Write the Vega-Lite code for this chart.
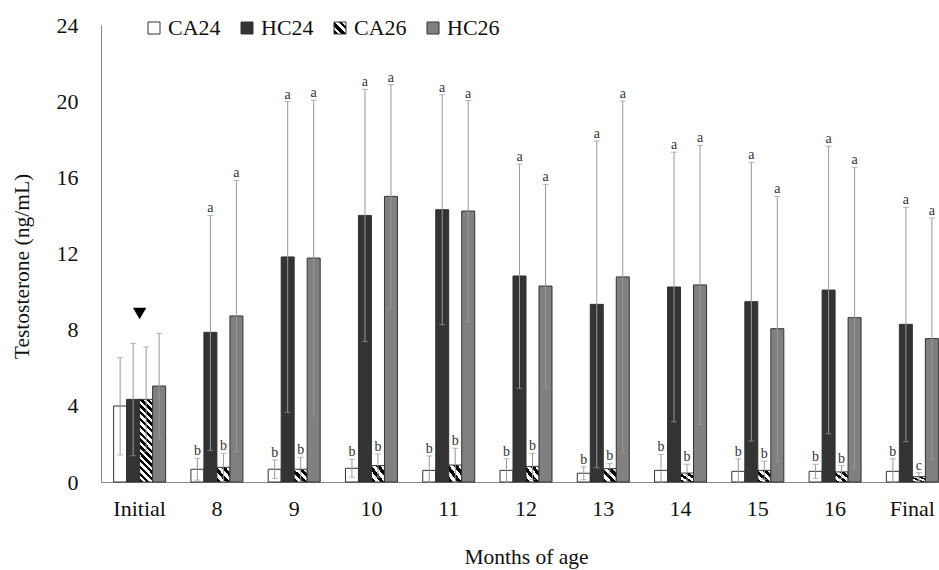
{
  "$schema": "https://vega.github.io/schema/vega-lite/v6.json",
  "width": 838,
  "height": 457,
  "autosize": {"type": "none"},
  "padding": {"left": 101, "top": 25, "right": 0, "bottom": 88},
  "background": "white",
  "config": {
    "view": {"stroke": null},
    "font": "Liberation Serif",
    "axis": {"grid": false, "ticks": false, "tickSize": 0, "domainColor": "#888888", "labelFont": "Liberation Serif", "labelFontSize": 22, "labelColor": "#111111", "titleFont": "Liberation Serif", "titleFontSize": 21.5, "titleFontWeight": "normal", "titleColor": "#111111"},
    "axisY": {"labelPadding": 23, "titlePadding": 23},
    "axisX": {"labelPadding": 16, "titlePadding": 27, "labelAngle": 0}
  },
  "datasets": {
    "bars": [
      {"month": "Initial", "series": "CA24", "mean": 3.99, "lo": 1.42, "hi": 6.53, "letter": ""},
      {"month": "Initial", "series": "HC24", "mean": 4.34, "lo": 1.38, "hi": 7.28, "letter": ""},
      {"month": "Initial", "series": "CA26", "mean": 4.34, "lo": 1.59, "hi": 7.09, "letter": ""},
      {"month": "Initial", "series": "HC26", "mean": 5.04, "lo": 2.27, "hi": 7.81, "letter": ""},
      {"month": "8", "series": "CA24", "mean": 0.67, "lo": 0.10, "hi": 1.24, "letter": "b"},
      {"month": "8", "series": "HC24", "mean": 7.86, "lo": 1.66, "hi": 14.0, "letter": "a"},
      {"month": "8", "series": "CA26", "mean": 0.77, "lo": 0.03, "hi": 1.51, "letter": "b"},
      {"month": "8", "series": "HC26", "mean": 8.72, "lo": 1.6, "hi": 15.84, "letter": "a"},
      {"month": "9", "series": "CA24", "mean": 0.67, "lo": 0.18, "hi": 1.16, "letter": "b"},
      {"month": "9", "series": "HC24", "mean": 11.82, "lo": 3.66, "hi": 19.98, "letter": "a"},
      {"month": "9", "series": "CA26", "mean": 0.67, "lo": 0.04, "hi": 1.30, "letter": "b"},
      {"month": "9", "series": "HC26", "mean": 11.76, "lo": 3.47, "hi": 20.05, "letter": "a"},
      {"month": "10", "series": "CA24", "mean": 0.72, "lo": 0.25, "hi": 1.19, "letter": "b"},
      {"month": "10", "series": "HC24", "mean": 14.0, "lo": 7.38, "hi": 20.62, "letter": "a"},
      {"month": "10", "series": "CA26", "mean": 0.86, "lo": 0.25, "hi": 1.47, "letter": "b"},
      {"month": "10", "series": "HC26", "mean": 15.0, "lo": 9.13, "hi": 20.87, "letter": "a"},
      {"month": "11", "series": "CA24", "mean": 0.61, "lo": 0.0, "hi": 1.37, "letter": "b"},
      {"month": "11", "series": "HC24", "mean": 14.3, "lo": 8.26, "hi": 20.34, "letter": "a"},
      {"month": "11", "series": "CA26", "mean": 0.89, "lo": 0.01, "hi": 1.77, "letter": "b"},
      {"month": "11", "series": "HC26", "mean": 14.23, "lo": 8.43, "hi": 20.03, "letter": "a"},
      {"month": "12", "series": "CA24", "mean": 0.61, "lo": 0.0, "hi": 1.22, "letter": "b"},
      {"month": "12", "series": "HC24", "mean": 10.82, "lo": 4.92, "hi": 16.69, "letter": "a"},
      {"month": "12", "series": "CA26", "mean": 0.82, "lo": 0.13, "hi": 1.51, "letter": "b"},
      {"month": "12", "series": "HC26", "mean": 10.29, "lo": 4.95, "hi": 15.63, "letter": "a"},
      {"month": "13", "series": "CA24", "mean": 0.46, "lo": 0.12, "hi": 0.80, "letter": "b"},
      {"month": "13", "series": "HC24", "mean": 9.33, "lo": 0.75, "hi": 17.91, "letter": "a"},
      {"month": "13", "series": "CA26", "mean": 0.70, "lo": 0.42, "hi": 0.98, "letter": "b"},
      {"month": "13", "series": "HC26", "mean": 10.77, "lo": 1.53, "hi": 20.01, "letter": "a"},
      {"month": "14", "series": "CA24", "mean": 0.61, "lo": 0.0, "hi": 1.45, "letter": "b"},
      {"month": "14", "series": "HC24", "mean": 10.24, "lo": 3.16, "hi": 17.32, "letter": "a"},
      {"month": "14", "series": "CA26", "mean": 0.47, "lo": 0.01, "hi": 0.93, "letter": "b"},
      {"month": "14", "series": "HC26", "mean": 10.35, "lo": 3.02, "hi": 17.68, "letter": "a"},
      {"month": "15", "series": "CA24", "mean": 0.56, "lo": 0.0, "hi": 1.22, "letter": "b"},
      {"month": "15", "series": "HC24", "mean": 9.47, "lo": 2.15, "hi": 16.79, "letter": "a"},
      {"month": "15", "series": "CA26", "mean": 0.61, "lo": 0.13, "hi": 1.09, "letter": "b"},
      {"month": "15", "series": "HC26", "mean": 8.05, "lo": 1.1, "hi": 15.0, "letter": "a"},
      {"month": "16", "series": "CA24", "mean": 0.56, "lo": 0.19, "hi": 0.93, "letter": "b"},
      {"month": "16", "series": "HC24", "mean": 10.08, "lo": 2.53, "hi": 17.63, "letter": "a"},
      {"month": "16", "series": "CA26", "mean": 0.53, "lo": 0.2, "hi": 0.86, "letter": "b"},
      {"month": "16", "series": "HC26", "mean": 8.63, "lo": 0.73, "hi": 16.53, "letter": "a"},
      {"month": "Final", "series": "CA24", "mean": 0.56, "lo": 0.0, "hi": 1.22, "letter": "b"},
      {"month": "Final", "series": "HC24", "mean": 8.28, "lo": 2.12, "hi": 14.43, "letter": "a"},
      {"month": "Final", "series": "CA26", "mean": 0.28, "lo": 0.07, "hi": 0.49, "letter": "c"},
      {"month": "Final", "series": "HC26", "mean": 7.53, "lo": 1.19, "hi": 13.87, "letter": "a"}
    ],
    "marker": [{"month": "Initial", "value": 8.85}]
  },
  "data": {"name": "bars"},
  "encoding": {
    "x": {
      "field": "month", "type": "nominal",
      "sort": ["Initial", "8", "9", "10", "11", "12", "13", "14", "15", "16", "Final"],
      "scale": {"range": [0, 850], "paddingInner": 0.327, "paddingOuter": 0.1635},
      "title": "Months of age"
    }
  },
  "layer": [
    {
      "mark": {"type": "bar", "stroke": "#333333", "strokeWidth": 1},
      "encoding": {
        "xOffset": {"field": "series", "type": "nominal", "sort": ["CA24", "HC24", "CA26", "HC26"], "scale": {"paddingInner": 0, "paddingOuter": 0}},
        "y": {"field": "mean", "type": "quantitative", "title": "Testosterone (ng/mL)", "scale": {"domain": [0, 24]}, "axis": {"values": [0, 4, 8, 12, 16, 20, 24], "titleY": 241}},
        "fill": {
          "condition": {
            "test": "datum.series === 'CA26' && datum.month === 'Initial'",
            "value": {"gradient": "linear", "x1": 0, "y1": 1, "x2": 0.181, "y2": -0.131, "stops": [
              {"offset": 0, "color": "#000"}, {"offset": 0.0357, "color": "#000"}, {"offset": 0.0357, "color": "#fff"}, {"offset": 0.0714, "color": "#fff"},
              {"offset": 0.0714, "color": "#000"}, {"offset": 0.1071, "color": "#000"}, {"offset": 0.1071, "color": "#fff"}, {"offset": 0.1429, "color": "#fff"},
              {"offset": 0.1429, "color": "#000"}, {"offset": 0.1786, "color": "#000"}, {"offset": 0.1786, "color": "#fff"}, {"offset": 0.2143, "color": "#fff"},
              {"offset": 0.2143, "color": "#000"}, {"offset": 0.25, "color": "#000"}, {"offset": 0.25, "color": "#fff"}, {"offset": 0.2857, "color": "#fff"},
              {"offset": 0.2857, "color": "#000"}, {"offset": 0.3214, "color": "#000"}, {"offset": 0.3214, "color": "#fff"}, {"offset": 0.3571, "color": "#fff"},
              {"offset": 0.3571, "color": "#000"}, {"offset": 0.3929, "color": "#000"}, {"offset": 0.3929, "color": "#fff"}, {"offset": 0.4286, "color": "#fff"},
              {"offset": 0.4286, "color": "#000"}, {"offset": 0.4643, "color": "#000"}, {"offset": 0.4643, "color": "#fff"}, {"offset": 0.5, "color": "#fff"},
              {"offset": 0.5, "color": "#000"}, {"offset": 0.5357, "color": "#000"}, {"offset": 0.5357, "color": "#fff"}, {"offset": 0.5714, "color": "#fff"},
              {"offset": 0.5714, "color": "#000"}, {"offset": 0.6071, "color": "#000"}, {"offset": 0.6071, "color": "#fff"}, {"offset": 0.6429, "color": "#fff"},
              {"offset": 0.6429, "color": "#000"}, {"offset": 0.6786, "color": "#000"}, {"offset": 0.6786, "color": "#fff"}, {"offset": 0.7143, "color": "#fff"},
              {"offset": 0.7143, "color": "#000"}, {"offset": 0.75, "color": "#000"}, {"offset": 0.75, "color": "#fff"}, {"offset": 0.7857, "color": "#fff"},
              {"offset": 0.7857, "color": "#000"}, {"offset": 0.8214, "color": "#000"}, {"offset": 0.8214, "color": "#fff"}, {"offset": 0.8571, "color": "#fff"},
              {"offset": 0.8571, "color": "#000"}, {"offset": 0.8929, "color": "#000"}, {"offset": 0.8929, "color": "#fff"}, {"offset": 0.9286, "color": "#fff"},
              {"offset": 0.9286, "color": "#000"}, {"offset": 0.9643, "color": "#000"}, {"offset": 0.9643, "color": "#fff"}, {"offset": 1, "color": "#fff"}
            ]}
          },
          "field": "series", "type": "nominal",
          "scale": {
            "domain": ["CA24", "HC24", "CA26", "HC26"],
            "range": ["#ffffff", "#333333", {"expr": "{gradient: 'linear', x1: 0, y1: 1, x2: 1, y2: 0, stops: [{offset: 0, color: '#000'}, {offset: 0.1667, color: '#000'}, {offset: 0.1667, color: '#fff'}, {offset: 0.3333, color: '#fff'}, {offset: 0.3333, color: '#000'}, {offset: 0.5, color: '#000'}, {offset: 0.5, color: '#fff'}, {offset: 0.6667, color: '#fff'}, {offset: 0.6667, color: '#000'}, {offset: 0.8333, color: '#000'}, {offset: 0.8333, color: '#fff'}, {offset: 1, color: '#fff'}]}"}, "#808080"]
          },
          "legend": {
            "orient": "none", "legendX": 42, "legendY": -8, "direction": "horizontal", "columns": 4, "title": null,
            "symbolType": "square", "symbolSize": 144, "symbolStrokeColor": "#333333", "symbolStrokeWidth": 1,
            "labelFont": "Liberation Serif", "labelFontSize": 22, "labelColor": "#111111", "labelOffset": 3, "columnPadding": 15
          }
        }
      }
    },
    {
      "mark": {"type": "rule", "color": "#999999", "strokeWidth": 1},
      "encoding": {
        "xOffset": {"field": "series", "type": "nominal", "sort": ["CA24", "HC24", "CA26", "HC26"]},
        "y": {"field": "lo", "type": "quantitative", "title": "Testosterone (ng/mL)"},
        "y2": {"field": "hi"}
      }
    },
    {
      "mark": {"type": "tick", "orient": "horizontal", "color": "#999999", "size": 6, "thickness": 1},
      "encoding": {
        "xOffset": {"field": "series", "type": "nominal", "sort": ["CA24", "HC24", "CA26", "HC26"]},
        "y": {"field": "hi", "type": "quantitative", "title": "Testosterone (ng/mL)"}
      }
    },
    {
      "mark": {"type": "tick", "orient": "horizontal", "color": "#999999", "size": 6, "thickness": 1},
      "encoding": {
        "xOffset": {"field": "series", "type": "nominal", "sort": ["CA24", "HC24", "CA26", "HC26"]},
        "y": {"field": "lo", "type": "quantitative", "title": "Testosterone (ng/mL)"}
      }
    },
    {
      "mark": {"type": "text", "baseline": "alphabetic", "dy": -3, "fontSize": 14, "font": "Liberation Serif", "color": "#333333"},
      "encoding": {
        "xOffset": {"field": "series", "type": "nominal", "sort": ["CA24", "HC24", "CA26", "HC26"]},
        "y": {"field": "hi", "type": "quantitative", "title": "Testosterone (ng/mL)"},
        "text": {"field": "letter"}
      }
    },
    {
      "data": {"name": "marker"},
      "mark": {"type": "point", "shape": "triangle-down", "filled": true, "color": "#000000", "size": 180, "opacity": 1},
      "encoding": {
        "y": {"field": "value", "type": "quantitative", "title": "Testosterone (ng/mL)"}
      }
    }
  ]
}
